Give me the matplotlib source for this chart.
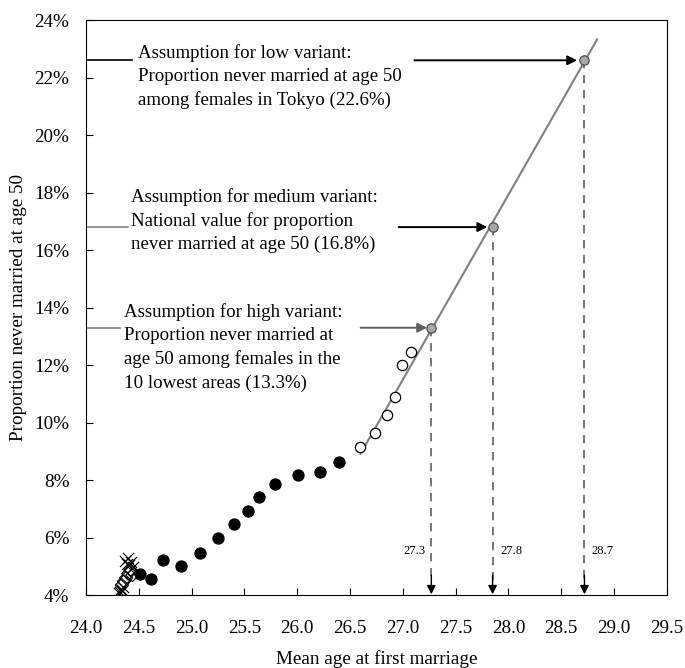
import matplotlib.pyplot as plt
from matplotlib.ticker import FuncFormatter

plt.rcParams["font.family"] = ["Liberation Serif", "Noto Sans CJK JP"]

# prefecture data: filled = observed, open = recent
filled_age = [24.51, 24.62, 24.73, 24.90, 25.08, 25.25, 25.40, 25.53, 25.64,
              25.79, 26.01, 26.22, 26.40]
filled_prop = [0.0474, 0.0456, 0.0521, 0.0503, 0.0548, 0.0600, 0.0648,
               0.0693, 0.0743, 0.0787, 0.0817, 0.0830, 0.0863]
open_age = [26.59, 26.74, 26.85, 26.93, 26.99, 27.08]
open_prop = [0.0917, 0.0963, 0.1025, 0.1089, 0.1200, 0.1247]
cross_age = [24.31, 24.32, 24.33, 24.34, 24.35, 24.37, 24.39, 24.40, 24.41, 24.43, 24.45]
cross_prop = [0.0408, 0.0412, 0.0420, 0.0415, 0.0428, 0.0520, 0.0510, 0.0530,
              0.0505, 0.0515, 0.0498]
diamond_age = [24.34, 24.36, 24.38, 24.40, 24.42, 24.44]
diamond_prop = [0.0435, 0.0448, 0.0460, 0.0475, 0.0488, 0.0470]

# fitted line
fit_age = [26.60, 28.84]
fit_prop = [0.0892, 0.2333]

# variant assumptions
variant_age = [28.72, 27.85, 27.27]
variant_prop = [0.226, 0.168, 0.133]
variant_label = ["28.7", "27.8", "27.3"]
variant_text = [
    "Assumption for low variant:\nProportion never married at age 50\namong females in Tokyo (22.6%)",
    "Assumption for medium variant:\nNational value for proportion\nnever married at age 50 (16.8%)",
    "Assumption for high variant:\nProportion never married at\nage 50 among females in the\n10 lowest areas (13.3%)",
]

fig = plt.figure(figsize=(6.85, 6.68), dpi=100)
ax = fig.add_axes([0.1255, 0.109, 0.848, 0.861])

ax.plot(fit_age, fit_prop, color="#808080", lw=1.5, zorder=2)
ax.scatter(filled_age, filled_prop, s=62, color="black", zorder=3)
ax.scatter(open_age, open_prop, s=55, facecolor="white", edgecolor="black",
           lw=0.9, zorder=3)
ax.scatter(diamond_age, diamond_prop, s=45, marker="D", facecolor="none",
           edgecolor="black", lw=0.8, zorder=3)
ax.scatter(cross_age, cross_prop, s=65, marker="x", color="black", lw=0.8, zorder=3)

# dashed drop lines with arrowheads
for a, p in zip(variant_age, variant_prop):
    ax.plot([a, a], [p, 0.045], color="#606060", lw=1.2,
            linestyle=(0, (5, 4)), zorder=1)
    ax.annotate("", xy=(a, 0.0403), xytext=(a, 0.047),
                arrowprops=dict(arrowstyle="-|>", color="black", lw=1.0,
                                mutation_scale=13, shrinkA=0, shrinkB=0))
ax.scatter(variant_age, variant_prop, s=45, facecolor="#a8a8a8",
           edgecolor="#505050", lw=0.9, zorder=4)

ax.text(27.22, 0.0555, variant_label[2], fontsize=9, ha="right", va="center")
ax.text(27.92, 0.0555, variant_label[1], fontsize=9, ha="left", va="center")
ax.text(28.79, 0.0555, variant_label[0], fontsize=9, ha="left", va="center")

# text boxes, left stub lines and arrows
text_pos = [(24.49, 0.2203), (24.43, 0.1702), (24.36, 0.1261)]
stub_end = [24.44, 24.40, 24.32]
stub_color = ["black", "#808080", "#808080"]
arrow_start = [27.11, 26.96, 26.60]
arrow_end = [28.65, 27.80, 27.23]
arrow_color = ["black", "black", "#606060"]
for i in range(3):
    ax.plot([24.02, stub_end[i]], [variant_prop[i], variant_prop[i]],
            color=stub_color[i], lw=1.2)
    ax.text(text_pos[i][0], text_pos[i][1], variant_text[i], fontsize=13.6,
            ha="left", va="center", linespacing=1.45)
    ax.annotate("", xy=(arrow_end[i], variant_prop[i]),
                xytext=(arrow_start[i], variant_prop[i]),
                arrowprops=dict(arrowstyle="-|>", color=arrow_color[i], lw=1.4,
                                mutation_scale=14, shrinkA=0, shrinkB=0))

ax.set_xlim(24.0, 29.5)
ax.set_ylim(0.04, 0.24)
ax.set_xticks([24.0 + 0.5 * k for k in range(12)])
ax.set_yticks([0.04 + 0.02 * k for k in range(11)])
ax.xaxis.set_major_formatter(FuncFormatter(lambda v, _: f"{v:.1f}"))
ax.yaxis.set_major_formatter(FuncFormatter(lambda v, _: f"{v * 100:.0f}%"))
ax.tick_params(direction="in", length=5, labelsize=13.8)
ax.tick_params(axis="x", pad=18)
ax.tick_params(axis="y", pad=12)
ax.set_xlabel("Mean age at first marriage", fontsize=13.8, labelpad=9)
ax.set_ylabel("Proportion never married at age 50", fontsize=13.8, labelpad=5)

fig.savefig("out.png", dpi=100)
